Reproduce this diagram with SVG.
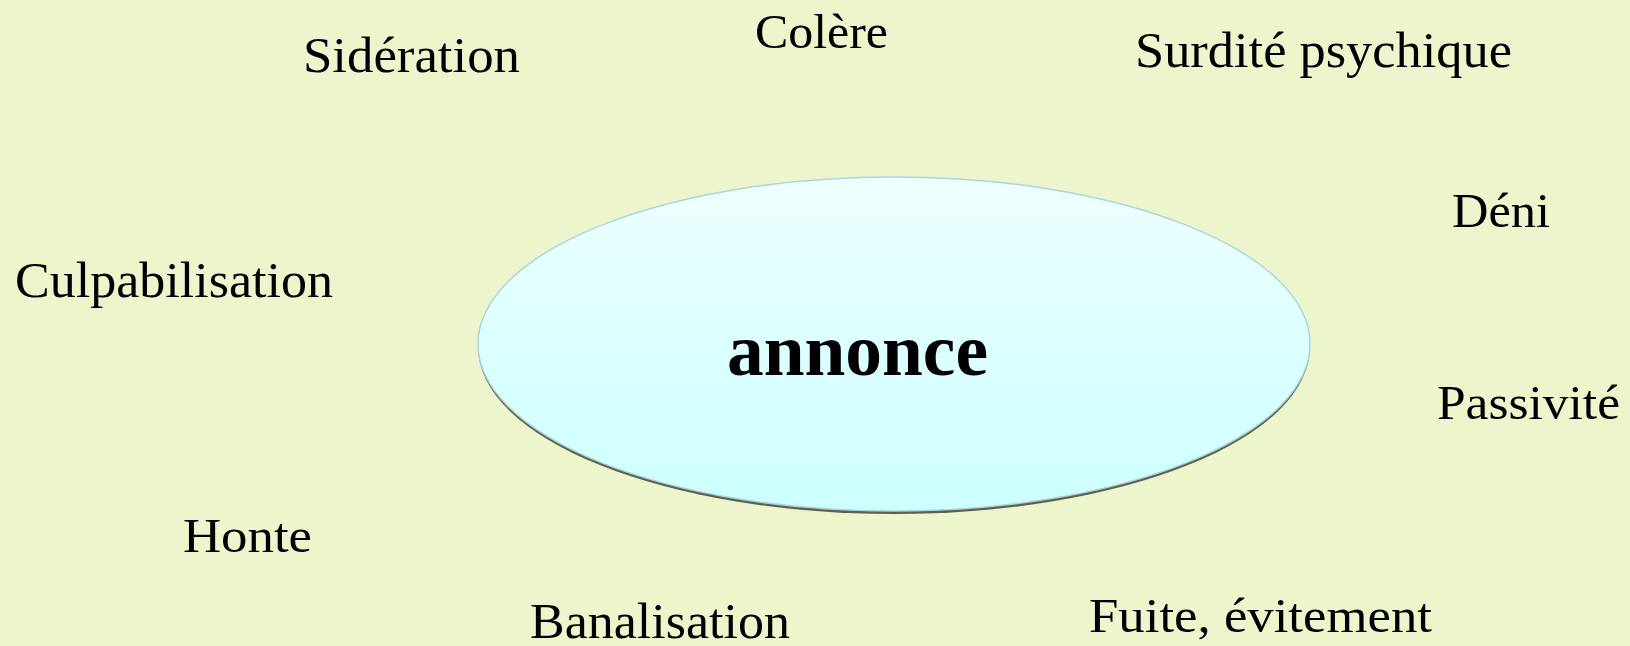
<svg xmlns="http://www.w3.org/2000/svg" width="1630" height="646" viewBox="0 0 1630 646">
  <style>
    .lbl { font-family: "Liberation Serif", "Times New Roman", serif; font-size: 49px; fill: #000000; }
    .lbl.wide { font-size: 51px; }
    .core { font-family: "Liberation Serif", "Times New Roman", serif; font-size: 73px; font-weight: bold; fill: #000000; }
  </style>
  <defs>
    <linearGradient id="discFill" x1="0" y1="0" x2="0" y2="1">
      <stop offset="0" stop-color="#EEFFFF"/>
      <stop offset="1" stop-color="#CCFFFF"/>
    </linearGradient>
  </defs>

  <!-- background -->
  <rect x="0" y="0" width="1630" height="646" fill="#EDF5CC"/>

  <!-- central disc with a dark lower rim -->
  <g id="annonce">
    <ellipse cx="894" cy="347" rx="416" ry="167" fill="#625E4A"/>
    <ellipse cx="894" cy="344" rx="416" ry="167" fill="url(#discFill)" stroke="#A9D6DE" stroke-width="1.5"/>
    <text class="core" x="727" y="375" textLength="261" lengthAdjust="spacingAndGlyphs">annonce</text>
  </g>

  <!-- surrounding reactions -->
  <g id="colere">
    <text class="lbl" x="755" y="48" textLength="133" lengthAdjust="spacingAndGlyphs">Colère</text>
  </g>
  <g id="sideration">
    <text class="lbl wide" x="303" y="72" textLength="217" lengthAdjust="spacingAndGlyphs">Sidération</text>
  </g>
  <g id="surdite">
    <text class="lbl wide" x="1135" y="67" textLength="377" lengthAdjust="spacingAndGlyphs">Surdité psychique</text>
  </g>
  <g id="deni">
    <text class="lbl" x="1452" y="227" textLength="98" lengthAdjust="spacingAndGlyphs">Déni</text>
  </g>
  <g id="culpabilisation">
    <text class="lbl wide" x="15" y="297" textLength="318" lengthAdjust="spacingAndGlyphs">Culpabilisation</text>
  </g>
  <g id="passivite">
    <text class="lbl" x="1437" y="419" textLength="183" lengthAdjust="spacingAndGlyphs">Passivité</text>
  </g>
  <g id="honte">
    <text class="lbl" x="183" y="552" textLength="129" lengthAdjust="spacingAndGlyphs">Honte</text>
  </g>
  <g id="banalisation">
    <text class="lbl wide" x="530" y="638" textLength="260" lengthAdjust="spacingAndGlyphs">Banalisation</text>
  </g>
  <g id="fuite">
    <text class="lbl" x="1089" y="632" textLength="343" lengthAdjust="spacingAndGlyphs">Fuite, évitement</text>
  </g>
</svg>
